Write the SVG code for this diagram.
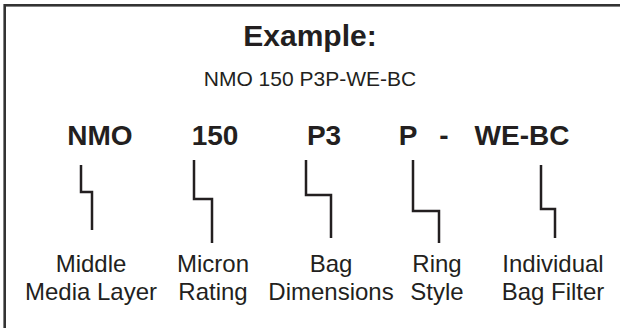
<svg xmlns="http://www.w3.org/2000/svg" width="620" height="328" viewBox="0 0 620 328">
  <style>
    .t { font-family: "Liberation Sans", Arial, sans-serif; fill: #231f20; text-anchor: middle; }
    .b { font-weight: bold; }
    .title { font-size: 30px; }
    .sub { font-size: 21px; }
    .code { font-size: 28px; }
    .lbl { font-size: 24px; }
    .conn { fill: none; stroke: #231f20; stroke-width: 2.5; stroke-linejoin: miter; }
  </style>
  <rect x="4.7" y="5.3" width="640" height="340" fill="#ffffff" stroke="#333333" stroke-width="2.6"/>
  <g id="title">
    <text class="t b title" x="310" y="46">Example:</text>
    <text class="t sub" x="310" y="86">NMO 150 P3P-WE-BC</text>
  </g>
  <g id="codes">
    <text class="t b code" x="100" y="145">NMO</text>
    <text class="t b code" x="215" y="145">150</text>
    <text class="t b code" x="324" y="145">P3</text>
    <text class="t b code" x="408" y="145">P</text>
    <text class="t b code" x="444" y="145">-</text>
    <text class="t b code" x="522" y="145">WE-BC</text>
  </g>
  <g id="connectors">
    <path class="conn" d="M81 165 V192 H92 V230"/>
    <path class="conn" d="M194 160 V199 H212 V243"/>
    <path class="conn" d="M306 160 V195 H331 V238"/>
    <path class="conn" d="M413 160 V211 H439 V243"/>
    <path class="conn" d="M541 165 V209 H555 V238"/>
  </g>
  <g id="node-middle-media-layer">
    <text class="t lbl" x="91" y="272">Middle</text>
    <text class="t lbl" x="91" y="300">Media Layer</text>
  </g>
  <g id="node-micron-rating">
    <text class="t lbl" x="213" y="272">Micron</text>
    <text class="t lbl" x="213" y="300">Rating</text>
  </g>
  <g id="node-bag-dimensions">
    <text class="t lbl" x="331" y="272">Bag</text>
    <text class="t lbl" x="331" y="300">Dimensions</text>
  </g>
  <g id="node-ring-style">
    <text class="t lbl" x="437" y="272">Ring</text>
    <text class="t lbl" x="437" y="300">Style</text>
  </g>
  <g id="node-individual-bag-filter">
    <text class="t lbl" x="553" y="272">Individual</text>
    <text class="t lbl" x="553" y="300">Bag Filter</text>
  </g>
</svg>
